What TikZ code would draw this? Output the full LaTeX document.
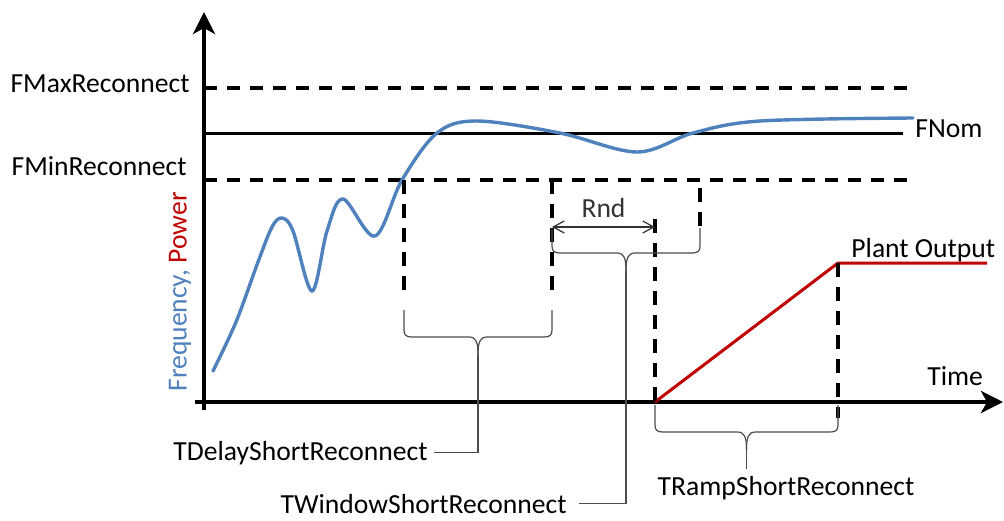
\documentclass[tikz,border=0pt]{standalone}
\usepackage{fontspec}
\setmainfont{Carlito}
\usepackage{xcolor}
\usetikzlibrary{arrows.meta, positioning}

\definecolor{freqblue}{HTML}{4F81BD}
\definecolor{powerred}{HTML}{C00000}

% curly brace opening upwards: tip name, left x, right x, end y, bar y
\newcommand{\curlybrace}[5]{%
  \coordinate (#1) at ({(#2+#3)/2},#5+18);
  \draw[leader] (#2,#4) -- (#2,#5-7) .. controls (#2,#5-2) and (#2+2,#5) .. (#2+8,#5)
    -- ({(#2+#3)/2-9},#5) .. controls ({(#2+#3)/2-2},#5) and ({(#2+#3)/2},#5+5) .. (#1);
  \draw[leader] (#3,#4) -- (#3,#5-7) .. controls (#3,#5-2) and (#3-2,#5) .. (#3-8,#5)
    -- ({(#2+#3)/2+9},#5) .. controls ({(#2+#3)/2+2},#5) and ({(#2+#3)/2},#5+5) .. (#1);
}

\begin{document}
\begin{tikzpicture}[x=0.5pt, y=-0.5pt, font=\fontsize{13.8}{16}\selectfont,
  axis/.style={line width=2pt, -{Stealth[length=11pt, width=11pt, inset=3pt]}},
  level/.style={line width=1.8pt, dash pattern=on 6.5pt off 5pt},
  marker/.style={line width=1.8pt, dash pattern=on 7pt off 5pt},
  leader/.style={line width=0.6pt, black!70},
  span/.style={line width=0.6pt, black!80, {Straight Barb[length=5.5pt, width=6pt]}-{Straight Barb[length=5.5pt, width=6pt]}},
  lbl/.style={inner sep=3pt}]
  \useasboundingbox (0,0) rectangle (1004,520);

  % axes
  \coordinate (o) at (204,402);
  \draw[axis] (204,410) -- (204,12);
  \draw[axis] (195,402) -- (1003,402);

  % reconnect band
  \node[lbl, anchor=base east] (fmax) at (196,92) {FMaxReconnect};
  \node[lbl, anchor=base east] (fmin) at (193,175) {FMinReconnect};
  \node[lbl, anchor=base west] (fnom) at (909,137) {FNom};
  \draw[level] (o |- 0,88) -- (912,88);
  \draw[line width=1.5pt] (o |- 0,133) -- (903,133);
  \draw[level] (o |- 0,180) -- (912,180);

  \node[rotate=90] (ylabel) at (180,292) {\textcolor{freqblue}{Frequency,} \textcolor{powerred}{Power}};
  \node[lbl, anchor=base west] (time) at (921,385) {Time};

  % frequency
  \draw[freqblue, line width=1.7pt, line cap=round] plot[smooth, tension=0.55] coordinates {
    (213,371) (236,322) (258,262) (272,227) (282,218) (293,231) (312,291)
    (327,231) (343,199) (375,236) (402,180)
    (437,133) (477,121) (560,133) (637,152) (693,133) (760,121) (913,118)};

  % plant output
  \coordinate (rampstart) at (655,402);
  \coordinate (rampend) at (838,263);
  \node[lbl, anchor=base west] (plant) at (845,257) {Plant Output};
  \draw[powerred, line width=1.5pt] (rampstart) -- (rampend) -- (987,263);

  % time markers
  \draw[marker] (404,180) -- (404,298);
  \draw[marker] (552,180) -- (552,298);
  \draw[marker] (655,219) -- (rampstart);
  \draw[marker] (700,188) -- (700,228);
  \draw[marker] (rampend) -- (838,418);

  % random delay
  \coordinate (rndL) at (552,227);
  \coordinate (rndR) at (655,227);
  \draw[span] (rndL) -- node[above=1pt] (rnd) {Rnd} (rndR);

  % braces
  \node[lbl, anchor=base east] (tdelay) at (434,460) {TDelayShortReconnect};
  \node[lbl, anchor=base east] (twindow) at (573,513) {TWindowShortReconnect};
  \node[lbl, anchor=base] (tramp) at (786,495) {TRampShortReconnect};
  \curlybrace{delaytip}{404}{552}{310}{337}
  \curlybrace{windowtip}{552}{700}{228}{253}
  \curlybrace{ramptip}{655}{838}{405}{432}
  \draw[leader] (delaytip) |- (tdelay.east);
  \draw[leader] (windowtip) |- ([xshift=3pt]twindow.east);
  \draw[leader] (ramptip) -- (ramptip |- tramp.north);
\end{tikzpicture}
\end{document}
